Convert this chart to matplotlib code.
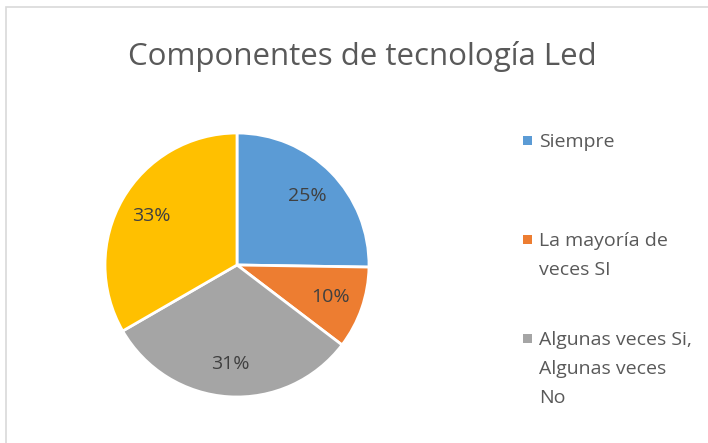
import matplotlib.pyplot as plt
from matplotlib.patches import Rectangle

plt.rcParams['font.family'] = ['Open Sans', 'DejaVu Sans']

title = "Componentes de tecnología Led"
labels = ["Siempre", "La mayoría de\nveces SI", "Algunas veces Si,\nAlgunas veces\nNo", ""]
values = [25, 10, 31, 33]
colors = ["#5B9BD5", "#ED7D31", "#A5A5A5", "#FFC000"]

W, H = 708, 443
fig = plt.figure(figsize=(W / 100, H / 100), dpi=100)

# chart frame (cut off at right and bottom)
fig.patches.append(Rectangle((6 / W, -0.1), 1.1, (H - 7) / H + 0.1, transform=fig.transFigure,
                             fill=False, edgecolor="#D9D9D9", linewidth=1.2))

cx, cy, r = 237, 265, 132
ax = fig.add_axes([(cx - r) / W, (H - cy - r) / H, 2 * r / W, 2 * r / H])
wedges, texts, autotexts = ax.pie(values, colors=colors, startangle=90, counterclock=False,
                                  autopct='%d%%', pctdistance=0.75,
                                  wedgeprops=dict(edgecolor="white", linewidth=2))
for t in autotexts:
    t.set_fontsize(14)
    t.set_color("#404040")
ax.set_xlim(-1, 1)
ax.set_ylim(-1, 1)
ax.set_aspect('equal')
ax.axis('off')

fig.text(362 / W, 1 - 56 / H, title, ha='center', va='center', fontsize=22.5, color="#595959")

# legend, only first three entries visible
ys = [140, 239, 338]
for lab, col, y in zip(labels[:3], colors[:3], ys):
    fig.patches.append(Rectangle((523 / W, 1 - (y + 5) / H), 9 / W, 9 / H,
                                 transform=fig.transFigure, facecolor=col, edgecolor='none'))
    for i, line in enumerate(lab.split("\n")):
        fig.text(539 / W, 1 - (y + 7 + 29 * i) / H, line, ha='left', va='baseline',
                 fontsize=14, color="#595959")

fig.savefig("out.png", dpi=100)
